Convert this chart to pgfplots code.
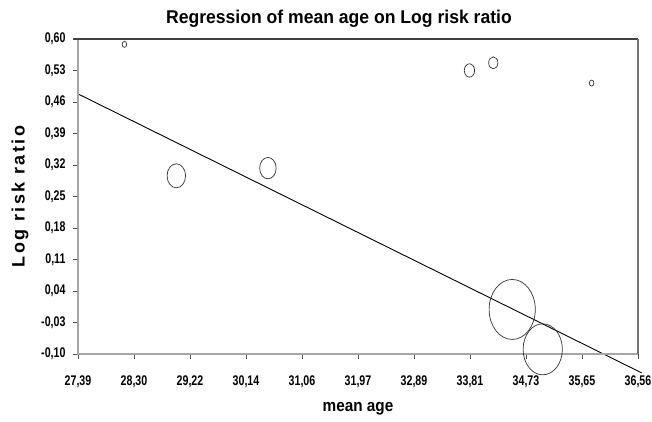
\documentclass[border=0pt]{standalone}
\usepackage{fontspec}
\setmainfont{Liberation Sans}
\newfontfamily\tickfont{Liberation Sans}[FakeStretch=0.76]
\newfontfamily\titlefont{Liberation Sans}[FakeStretch=0.95]
\newfontfamily\labfont{Liberation Sans}[FakeStretch=0.9]
\newfontfamily\ylabfont{Liberation Sans}[LetterSpace=14]
\usepackage{pgfplots}
\pgfplotsset{compat=1.18}

% bubbles: x, y, vertical radius (pt)
\usepackage{pgfplotstable}
\pgfplotstableread{
x      y       r
28.15  0.588   3.0
29.00  0.296   12.0
30.50  0.313   10.7
33.80  0.530   6.7
34.19  0.547   6.0
35.80  0.502   3.0
34.50  -0.001  30.0
35.00  -0.0896 25.5
}\bubbles

\begin{document}
\begin{tikzpicture}
\path[use as bounding box] (-78pt,-68pt) rectangle (574pt,354pt);
\begin{axis}[
  at={(0,0)}, anchor=south west,
  scale only axis, width=560pt, height=315pt,
  xmin=27.39, xmax=36.56, ymin=-0.10, ymax=0.60,
  clip=false,
  axis line style={draw=none},
  tick align=outside, xtick pos=bottom, ytick pos=left,
  major tick length=5pt,
  every tick/.style={black!70, line width=0.8pt},
  xtick={27.39,28.307,29.224,30.141,31.058,31.975,32.892,33.809,34.726,35.643,36.56},
  xticklabels={{27,39},{28,30},{29,22},{30,14},{31,06},{31,97},{32,89},{33,81},{34,73},{35,65},{36,56}},
  ytick={-0.10,-0.03,0.04,0.11,0.18,0.25,0.32,0.39,0.46,0.53,0.60},
  yticklabels={{-0,10},{-0,03},{0,04},{0,11},{0,18},{0,25},{0,32},{0,39},{0,46},{0,53},{0,60}},
  tick label style={font=\tickfont\bfseries\fontsize{14}{16}\selectfont},
  xticklabel style={yshift=-13pt},
  yticklabel style={xshift=-4pt},
]
% regression line
\addplot[black, line width=0.9pt] coordinates {(27.39,0.478) (36.62,-0.142)};
% studies
\addplot[only marks, mark=o, black!80, line width=0.7pt,
  scatter, scatter/use mapped color={draw=black!80},
  mark options={xscale=0.77},
  visualization depends on={\thisrow{r} \as \rr},
  scatter/@pre marker code/.append style={/tikz/mark size=\rr pt}]
  table[x=x, y=y] {\bubbles};
% frame
\draw[black!35, line width=1.7pt] (rel axis cs:0,1) -- (rel axis cs:0,0) -- (rel axis cs:1,0);
\draw[black!75, line width=1.3pt] ([xshift=-5pt]rel axis cs:0,1) -- (rel axis cs:1,1);
\draw[black!55, line width=1.6pt] (rel axis cs:1,1) -- (rel axis cs:1,0);
% titles
\node[font=\titlefont\bfseries\fontsize{18.5}{20}\selectfont] at ([yshift=20pt]rel axis cs:0.466,1) {Regression of mean age on Log risk ratio};
\node[font=\labfont\bfseries\fontsize{17}{19}\selectfont] at ([yshift=-55pt]rel axis cs:0.5,0) {mean age};
\node[rotate=90, font=\ylabfont\bfseries\fontsize{18}{20}\selectfont] at ([xshift=-58pt]rel axis cs:0,0.5) {Log risk ratio};
\end{axis}
\end{tikzpicture}
\end{document}
